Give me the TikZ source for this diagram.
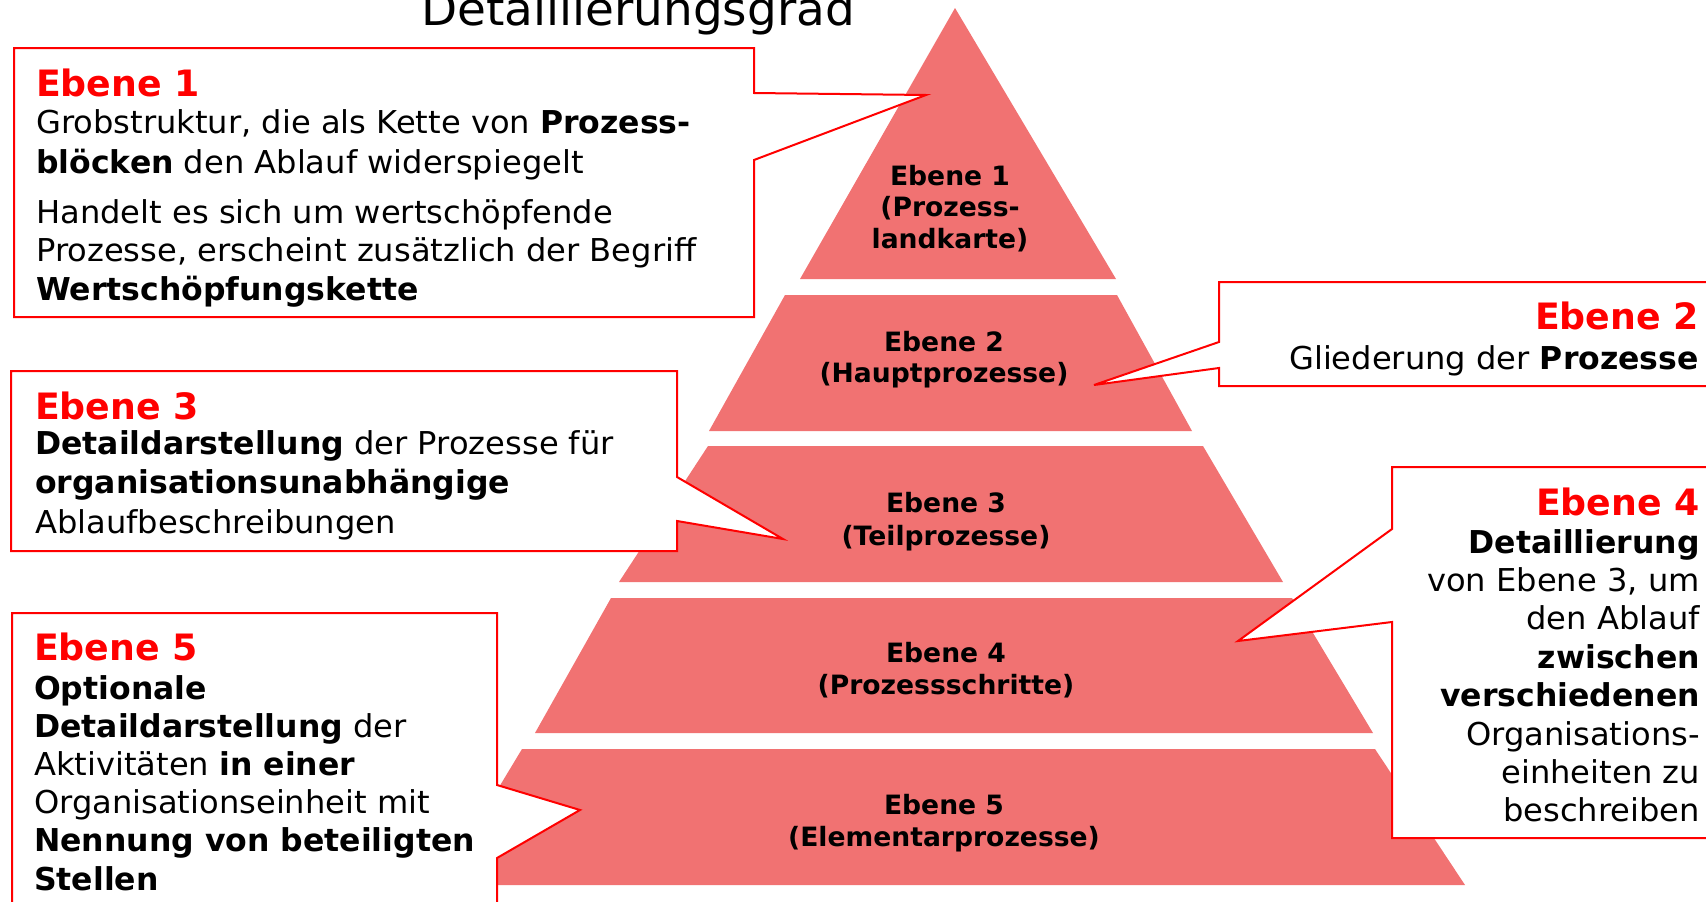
\documentclass[tikz,border=0pt]{standalone}
\usepackage{fontspec}
\setmainfont{DejaVu Sans}[UprightFeatures={FakeStretch=1.02}]
\definecolor{tier}{RGB}{241,114,114}
\definecolor{cred}{RGB}{255,0,0}
\newcommand\llines[1]{\vtop{\halign{##\hfil\cr#1\crcr}}}
\newcommand\rlines[1]{\vtop{\halign{\hfil##\cr#1\crcr}}}
\newcommand\clines[1]{\vtop{\halign{\hfil##\hfil\cr#1\crcr}}}
\begin{document}
\begin{tikzpicture}[x=1pt,y=-1pt,
  tierfill/.style={fill=tier,draw=none},
  callout/.style={fill=white,draw=cred,line width=2pt,line join=miter},
  head/.style={inner sep=0pt,text=cred,font=\fontsize{36.3}{40}\selectfont\bfseries},
  body/.style={inner sep=0pt,font=\fontsize{31.5}{#1}\selectfont},
  lbl/.style={inner sep=0pt,anchor=base,font=\fontsize{26.6}{#1}\selectfont\bfseries}]
\useasboundingbox (0,0) rectangle (1706,902);
\clip (0,0) rectangle (1706,902);
% pyramid
\fill[tierfill] (955,8) -- (1116,279) -- (800,279) -- cycle;
\fill[tierfill] (785,295) -- (1117,295) -- (1192,431) -- (709,431) -- cycle;
\fill[tierfill] (708,446) -- (1203,446) -- (1283,582) -- (619,582) -- cycle;
\fill[tierfill] (611,598) -- (1292,598) -- (1373,733) -- (535,733) -- cycle;
\fill[tierfill] (522,749) -- (1375,749) -- (1465,885) -- (440,885) -- cycle;
% tier labels
\node[lbl=31.5] (l1) at (950,185) {\clines{Ebene 1\cr (Prozess-\cr landkarte)}};
\node[lbl=31] (l2) at (944,351) {\clines{Ebene 2\cr (Hauptprozesse)}};
\node[lbl=33] (l3) at (946,512) {\clines{Ebene 3\cr (Teilprozesse)}};
\node[lbl=32] (l4) at (946,662) {\clines{Ebene 4\cr (Prozessschritte)}};
\node[lbl=32] (l5) at (944,814) {\clines{Ebene 5\cr (Elementarprozesse)}};
% callouts
\draw[callout] (14,48) -- (754,48) -- (754,93) -- (926,95) -- (754,160) -- (754,317) -- (14,317) -- cycle;
\draw[callout] (1219,282) -- (1720,282) -- (1720,386) -- (1219,386) -- (1219,368) -- (1094,385) -- (1219,342) -- cycle;
\draw[callout] (11,371) -- (677,371) -- (677,477) -- (783,539) -- (677,521) -- (677,551) -- (11,551) -- cycle;
\draw[callout] (1392,467) -- (1720,467) -- (1720,838) -- (1392,838) -- (1392,622) -- (1238,641) -- (1392,529) -- cycle;
\draw[callout] (12,613) -- (497,613) -- (497,785) -- (580,810) -- (497,858) -- (497,920) -- (12,920) -- cycle;
% title
\node[anchor=base west,inner sep=0pt,font=\fontsize{46}{56}\selectfont] (title) at (421,25) {Detaillierungsgrad};
% texts box 1
\node[head,anchor=base west] (h1) at (36,96) {Ebene 1};
\node[body=40,anchor=base west] (b1a) at (36,133) {\llines{Grobstruktur, die als Kette von \textbf{Prozess-}\cr \textbf{blöcken} den Ablauf widerspiegelt}};
\node[body=38.5,anchor=base west] (b1b) at (36,223) {\llines{Handelt es sich um wertschöpfende\cr Prozesse, erscheint zusätzlich der Begriff\cr \textbf{Wertschöpfungskette}}};
% box 2
\node[head,anchor=base east] (h2) at (1699,329) {Ebene 2};
\node[body=38,anchor=base east] (b2) at (1699,369) {Gliederung der \textbf{Prozesse}};
% box 3
\node[head,anchor=base west] (h3) at (35,419) {Ebene 3};
\node[body=39.5,anchor=base west] (b3) at (35,454) {\llines{\textbf{Detaildarstellung} der Prozesse für\cr \textbf{organisationsunabhängige}\cr Ablaufbeschreibungen}};
% box 4
\node[head,anchor=base east] (h4) at (1700,515) {Ebene 4};
\node[body=38.4,anchor=base east] (b4) at (1700,553) {\rlines{\textbf{Detaillierung}\cr von Ebene 3, um\cr den Ablauf\cr \textbf{zwischen}\cr \textbf{verschiedenen}\cr Organisations-\cr einheiten zu\cr beschreiben}};
% box 5
\node[head,anchor=base west] (h5) at (34,660) {Ebene 5};
\node[body=38.2,anchor=base west] (b5) at (34,699) {\llines{\textbf{Optionale}\cr \textbf{Detaildarstellung} der\cr Aktivitäten \textbf{in einer}\cr Organisationseinheit mit\cr \textbf{Nennung von beteiligten}\cr \textbf{Stellen}}};
\end{tikzpicture}
\end{document}
